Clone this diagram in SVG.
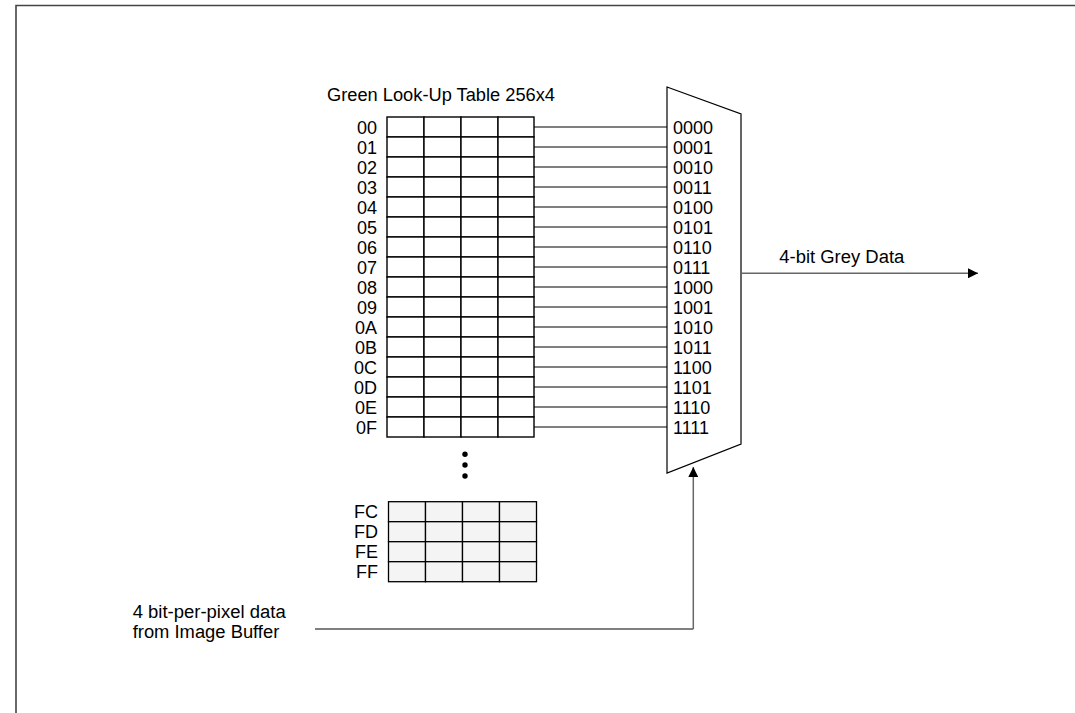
<svg xmlns="http://www.w3.org/2000/svg" width="1075" height="713" viewBox="0 0 1075 713">
<style>
text{font-family:"Liberation Sans",Arial,sans-serif;font-size:18px;fill:#000}
.hex{text-anchor:end}
.cell{fill:#fff;stroke:#000;stroke-width:1.4}
.cell2{fill:#f4f4f4;stroke:#000;stroke-width:1.3}
.wire{stroke:#000;stroke-width:1;fill:none}
.gwire{stroke:#666;stroke-width:1.5;fill:none}
</style>
<defs>
<marker id="ah" viewBox="0 0 10 10" refX="10" refY="5" markerWidth="10" markerHeight="10" markerUnits="userSpaceOnUse" orient="auto">
<path d="M0,0 L10,5 L0,10 Z" fill="#000"/>
</marker>
<g id="row"><rect class="cell" x="0" y="0" width="37" height="20"/><rect class="cell" x="37" y="0" width="37" height="20"/><rect class="cell" x="74" y="0" width="37" height="20"/><rect class="cell" x="111" y="0" width="36" height="20"/></g>
<g id="row2"><rect class="cell2" x="0" y="0" width="37" height="20"/><rect class="cell2" x="37" y="0" width="37" height="20"/><rect class="cell2" x="74" y="0" width="37" height="20"/><rect class="cell2" x="111" y="0" width="37" height="20"/></g>
</defs>
<rect x="0" y="0" width="1075" height="713" fill="#fff"/>
<g id="frame"><path d="M16,713 L16,5.5 L1075,5.5" fill="none" stroke="#444" stroke-width="1.6"/></g>

<g id="connectors">
<line class="wire" x1="534" y1="127" x2="667" y2="127"/>
<line class="wire" x1="534" y1="147" x2="667" y2="147"/>
<line class="wire" x1="534" y1="167" x2="667" y2="167"/>
<line class="wire" x1="534" y1="187" x2="667" y2="187"/>
<line class="wire" x1="534" y1="207" x2="667" y2="207"/>
<line class="wire" x1="534" y1="227" x2="667" y2="227"/>
<line class="wire" x1="534" y1="247" x2="667" y2="247"/>
<line class="wire" x1="534" y1="267" x2="667" y2="267"/>
<line class="wire" x1="534" y1="287" x2="667" y2="287"/>
<line class="wire" x1="534" y1="307" x2="667" y2="307"/>
<line class="wire" x1="534" y1="327" x2="667" y2="327"/>
<line class="wire" x1="534" y1="347" x2="667" y2="347"/>
<line class="wire" x1="534" y1="367" x2="667" y2="367"/>
<line class="wire" x1="534" y1="387" x2="667" y2="387"/>
<line class="wire" x1="534" y1="407" x2="667" y2="407"/>
<line class="wire" x1="534" y1="427" x2="667" y2="427"/>
<line class="gwire" x1="742" y1="273.3" x2="978" y2="273.3" marker-end="url(#ah)"/>
<path class="wire" d="M315,629 L693.3,629"/>
<path class="gwire" d="M693.3,629 L693.3,467" marker-end="url(#ah)"/>
</g>

<g id="lut">
<text x="327" y="101" textLength="228" lengthAdjust="spacingAndGlyphs">Green Look-Up Table 256x4</text>
<use href="#row" x="387" y="117"/>
<use href="#row" x="387" y="137"/>
<use href="#row" x="387" y="157"/>
<use href="#row" x="387" y="177"/>
<use href="#row" x="387" y="197"/>
<use href="#row" x="387" y="217"/>
<use href="#row" x="387" y="237"/>
<use href="#row" x="387" y="257"/>
<use href="#row" x="387" y="277"/>
<use href="#row" x="387" y="297"/>
<use href="#row" x="387" y="317"/>
<use href="#row" x="387" y="337"/>
<use href="#row" x="387" y="357"/>
<use href="#row" x="387" y="377"/>
<use href="#row" x="387" y="397"/>
<use href="#row" x="387" y="417"/>
<text class="hex" x="377" y="133.5">00</text>
<text class="hex" x="377" y="153.5">01</text>
<text class="hex" x="377" y="173.5">02</text>
<text class="hex" x="377" y="193.5">03</text>
<text class="hex" x="377" y="213.5">04</text>
<text class="hex" x="377" y="233.5">05</text>
<text class="hex" x="377" y="253.5">06</text>
<text class="hex" x="377" y="273.5">07</text>
<text class="hex" x="377" y="293.5">08</text>
<text class="hex" x="377" y="313.5">09</text>
<text class="hex" x="377" y="333.5">0A</text>
<text class="hex" x="377" y="353.5">0B</text>
<text class="hex" x="377" y="373.5">0C</text>
<text class="hex" x="377" y="393.5">0D</text>
<text class="hex" x="377" y="413.5">0E</text>
<text class="hex" x="377" y="433.5">0F</text>
<circle cx="465" cy="454.3" r="2.7" fill="#000"/>
<circle cx="465" cy="465" r="2.7" fill="#000"/>
<circle cx="465" cy="476" r="2.7" fill="#000"/>
<use href="#row2" x="388.5" y="501.7"/>
<use href="#row2" x="388.5" y="521.7"/>
<use href="#row2" x="388.5" y="541.7"/>
<use href="#row2" x="388.5" y="561.7"/>
<text class="hex" x="378" y="518">FC</text>
<text class="hex" x="378" y="538">FD</text>
<text class="hex" x="378" y="558">FE</text>
<text class="hex" x="378" y="578">FF</text>
</g>

<g id="mux">
<polygon points="667,87 741,114 741,444 667,473" fill="#fff" stroke="#000" stroke-width="1.2"/>
<line x1="741" y1="114" x2="741" y2="444" stroke="#666" stroke-width="1.5"/>
<text x="673" y="134">0000</text>
<text x="673" y="154">0001</text>
<text x="673" y="174">0010</text>
<text x="673" y="194">0011</text>
<text x="673" y="214">0100</text>
<text x="673" y="234">0101</text>
<text x="673" y="254">0110</text>
<text x="673" y="274">0111</text>
<text x="673" y="294">1000</text>
<text x="673" y="314">1001</text>
<text x="673" y="334">1010</text>
<text x="673" y="354">1011</text>
<text x="673" y="374">1100</text>
<text x="673" y="394">1101</text>
<text x="673" y="414">1110</text>
<text x="673" y="434">1111</text>
</g>

<g id="output-label"><text x="779.3" y="262.7" textLength="125" lengthAdjust="spacingAndGlyphs">4-bit Grey Data</text></g>
<g id="input-label">
<text x="132.7" y="618.3" textLength="153" lengthAdjust="spacingAndGlyphs">4 bit-per-pixel data</text>
<text x="132.7" y="637.5" textLength="146.6" lengthAdjust="spacingAndGlyphs">from Image Buffer</text>
</g>
</svg>
